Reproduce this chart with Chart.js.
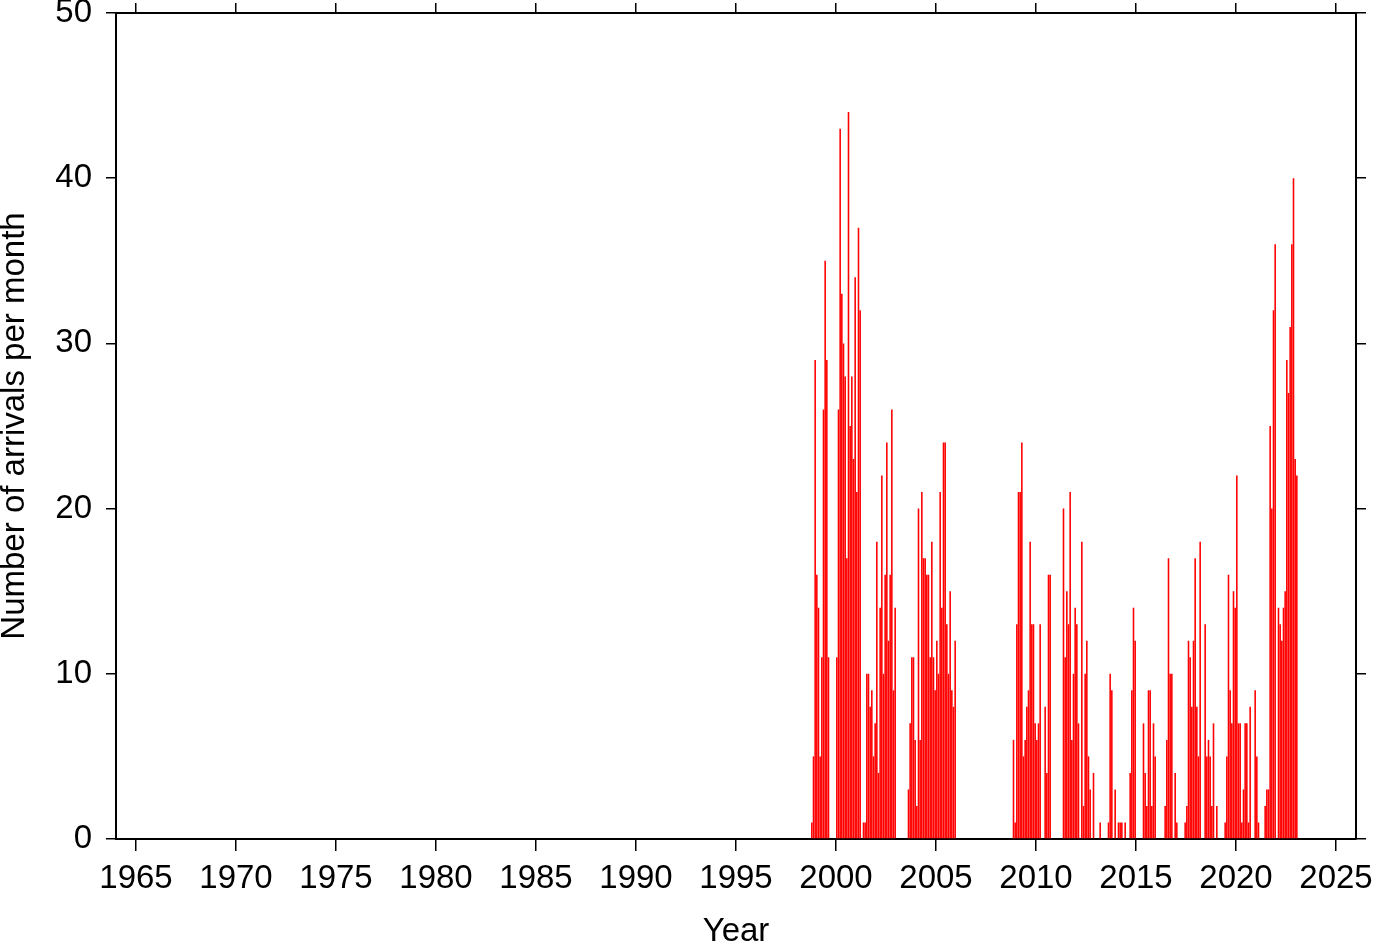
<!DOCTYPE html>
<html>
<head>
<meta charset="utf-8">
<script src="https://cdn.jsdelivr.net/npm/chart.js@4.4.0/dist/chart.umd.min.js"></script>
<style>
  html, body { margin: 0; padding: 0; background: #ffffff; }
  #wrap { width: 1382px; height: 942px; }
</style>
</head>
<body>
<div id="wrap"><canvas id="c" width="1382" height="942"></canvas></div>
<script>
// Monthly arrival counts (Jan..Dec)
const counts1998 = [0, 0, 0, 0, 0, 0, 0, 0, 0, 1, 5, 29];
const counts1999 = [16, 14, 5, 11, 26, 35, 29, 11, 0, 0, 0, 0];
const counts2000 = [11, 26, 43, 33, 30, 28, 17, 44, 25, 28, 23, 34];
const counts2001 = [21, 37, 32, 0, 1, 1, 10, 10, 8, 9, 5, 7];
const counts2002 = [18, 4, 14, 22, 10, 16, 24, 12, 16, 26, 9, 14];
const counts2003 = [0, 0, 0, 0, 0, 0, 0, 3, 7, 11, 11, 6];
const counts2004 = [2, 20, 6, 21, 17, 17, 16, 16, 11, 18, 11, 9];
const counts2005 = [12, 10, 21, 14, 24, 24, 13, 10, 15, 9, 8, 12];
const counts2006 = [0, 0, 0, 0, 0, 0, 0, 0, 0, 0, 0, 0];
const counts2007 = [0, 0, 0, 0, 0, 0, 0, 0, 0, 0, 0, 0];
const counts2008 = [0, 0, 0, 0, 0, 0, 0, 0, 0, 0, 6, 1];
const counts2009 = [13, 21, 21, 24, 5, 6, 8, 9, 18, 13, 13, 7];
const counts2010 = [6, 7, 13, 0, 0, 8, 4, 16, 16, 0, 0, 0];
const counts2011 = [0, 0, 0, 0, 20, 11, 15, 13, 21, 6, 10, 14];
const counts2012 = [13, 7, 0, 18, 2, 10, 12, 5, 3, 0, 4, 0];
const counts2013 = [0, 0, 1, 0, 0, 0, 0, 1, 10, 9, 0, 3];
const counts2014 = [0, 1, 1, 1, 0, 1, 0, 0, 4, 9, 14, 12];
const counts2015 = [0, 0, 0, 0, 7, 4, 2, 9, 9, 2, 7, 5];
const counts2016 = [0, 0, 0, 0, 0, 2, 6, 17, 10, 10, 0, 4];
const counts2017 = [1, 0, 0, 0, 0, 1, 2, 12, 11, 8, 12, 17];
const counts2018 = [8, 5, 18, 0, 0, 13, 5, 6, 5, 2, 7, 0];
const counts2019 = [2, 0, 0, 0, 0, 1, 5, 16, 9, 7, 15, 14];
const counts2020 = [22, 7, 7, 1, 3, 7, 7, 1, 8, 0, 0, 9];
const counts2021 = [5, 1, 0, 0, 0, 2, 3, 3, 25, 20, 32, 36];
const counts2022 = [0, 14, 13, 12, 14, 15, 29, 27, 31, 36, 40, 23];
const counts2023 = [22, 0, 0, 0, 0, 0, 0, 0, 0, 0, 0, 0];

const dataYears = [1998, 1999, 2000, 2001, 2002, 2003, 2004, 2005, 2006, 2007, 2008, 2009, 2010,
  2011, 2012, 2013, 2014, 2015, 2016, 2017, 2018, 2019, 2020, 2021, 2022, 2023];
const yearlyCounts = [counts1998, counts1999, counts2000, counts2001, counts2002, counts2003,
  counts2004, counts2005, counts2006, counts2007, counts2008, counts2009, counts2010, counts2011,
  counts2012, counts2013, counts2014, counts2015, counts2016, counts2017, counts2018, counts2019,
  counts2020, counts2021, counts2022, counts2023];

const xTickYears = [1965, 1970, 1975, 1980, 1985, 1990, 1995, 2000, 2005, 2010, 2015, 2020, 2025];
const yTickValues = [0, 10, 20, 30, 40, 50];
const xTitle = 'Year';
const yTitle = 'Number of arrivals per month';

// Build points: each month's bar centred in its month
const points = [];
dataYears.forEach((yr, i) => {
  yearlyCounts[i].forEach((v, m) => {
    points.push({ x: yr + (m + 0.5) / 12, y: v });
  });
});

const font = { family: "'Liberation Sans', Arial, Helvetica, sans-serif", size: 33, lineHeight: 1 };
const black = '#000000';

const setXTicks = s => { s.ticks = xTickYears.map(v => ({ value: v })); };
const setYTicks = s => { s.ticks = yTickValues.map(v => ({ value: v })); };
const noPad = s => { s.paddingTop = 0; s.paddingBottom = 0; s.paddingLeft = 0; s.paddingRight = 0; };

new Chart(document.getElementById('c').getContext('2d'), {
  type: 'bar',
  data: {
    datasets: [{
      data: points,
      backgroundColor: '#ff0000',
      borderWidth: 0,
      barPercentage: 0.95,
      categoryPercentage: 1.0,
      xAxisID: 'x',
      yAxisID: 'y'
    }]
  },
  options: {
    responsive: false,
    animation: false,
    layout: { padding: { top: 3, right: 16, left: 0, bottom: 0 } },
    plugins: { legend: { display: false }, tooltip: { enabled: false } },
    scales: {
      x: {
        type: 'linear', position: 'bottom', min: 1964, max: 2026, offset: false,
        afterBuildTicks: setXTicks,
        ticks: { font: font, color: black, padding: 11, maxRotation: 0, autoSkip: false,
                 callback: v => String(v) },
        grid: { drawOnChartArea: false, offset: false, tickLength: 12, color: black, lineWidth: 1.5 },
        border: { color: black, width: 2 },
        title: { display: true, text: xTitle, font: font, color: black, padding: { top: 0, bottom: -6 } },
        afterFit: s => { s.height = 103; noPad(s); }
      },
      x2: {
        type: 'linear', position: 'top', min: 1964, max: 2026, offset: false,
        afterBuildTicks: setXTicks,
        ticks: { display: false },
        grid: { drawOnChartArea: false, offset: false, tickLength: 10, color: black, lineWidth: 1.5 },
        border: { color: black, width: 2 },
        afterFit: s => { s.height = 10; noPad(s); }
      },
      y: {
        type: 'linear', position: 'left', min: 0, max: 50,
        afterBuildTicks: setYTicks,
        ticks: { font: font, color: black, padding: 14 },
        grid: { drawOnChartArea: false, tickLength: 10, color: black, lineWidth: 1.5 },
        border: { color: black, width: 2 },
        title: { display: true, text: yTitle, font: font, color: black, padding: { top: -2, bottom: 0 } },
        afterFit: s => { s.width = 116; noPad(s); }
      },
      y2: {
        type: 'linear', position: 'right', min: 0, max: 50,
        afterBuildTicks: setYTicks,
        ticks: { display: false },
        grid: { drawOnChartArea: false, tickLength: 10, color: black, lineWidth: 1.5 },
        border: { color: black, width: 2 },
        afterFit: s => { s.width = 10; noPad(s); }
      }
    }
  }
});
</script>
</body>
</html>
